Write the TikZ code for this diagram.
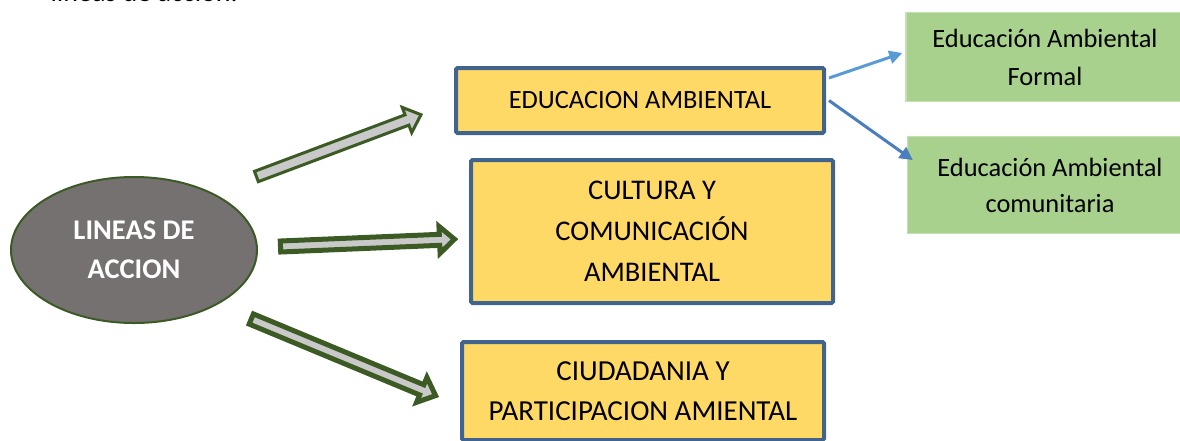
\documentclass[tikz,border=0pt]{standalone}
\usepackage{fontspec}
\setmainfont{Carlito}
\usepackage{xcolor}
\usetikzlibrary{arrows.meta}
\usetikzlibrary{calc}
\usetikzlibrary{shapes.geometric}

\definecolor{boxyellow}{HTML}{FFD966}
\definecolor{boxblue}{HTML}{41648F}
\definecolor{ovalgray}{HTML}{767171}
\definecolor{darkgreen}{HTML}{3B5A24}
\definecolor{arrowgray}{HTML}{C9C9C9}
\definecolor{boxgreen}{HTML}{A9D18E}
\definecolor{boxgreenline}{HTML}{C5E0B4}
\definecolor{lightblue}{HTML}{5B9BD5}
\definecolor{midblue}{HTML}{4A7EBF}

\begin{document}
\begin{tikzpicture}[x=1pt,y=-1pt,
    linebox/.style={draw=boxblue,line width=4pt,fill=boxyellow,rounded corners=1.5pt,align=center,inner sep=0pt},
    subbox/.style={draw=boxgreenline,line width=1.5pt,fill=boxgreen,align=center,inner sep=0pt},
    blockarrow/.style={draw=darkgreen,fill=arrowgray,line join=miter},
    thinarrow/.style={line width=3pt,-{Triangle[length=13pt,width=13pt]}}]
        \newcommand{\figlineasshaft}{5.5pt}
        \newcommand{\figlineashead}{13.5pt}
        \newcommand{\figlineasheadlen}{15pt}
        \newcommand{\figlineasarrow}[3]{%
            \coordinate (hb) at ($(#3)!\figlineasheadlen!(#2)$);
            \draw[blockarrow,#1] ($(#2)!\figlineasshaft!90:(#3)$) -- ($(hb)!\figlineasshaft!90:(#3)$)
                -- ($(hb)!\figlineashead!90:(#3)$) -- (#3) -- ($(hb)!\figlineashead!-90:(#3)$)
                -- ($(hb)!\figlineasshaft!-90:(#3)$) -- ($(#2)!\figlineasshaft!-90:(#3)$) -- cycle;}
        \useasboundingbox (0,0) rectangle (1180,440);
        \node[anchor=base west,font=\fontsize{28}{34}\selectfont] (intro) at (47,1.5) {líneas de acción.};
        \node[ellipse,draw=darkgreen,line width=2pt,fill=ovalgray,minimum width=246pt,minimum height=146pt,
              text=white,align=center,font=\bfseries\fontsize{28.5}{39}\selectfont] (lineas) at (134,250) {LINEAS DE\\ACCION};
        \node[linebox,minimum width=368pt,minimum height=65pt,font=\fontsize{26.4}{36}\selectfont] (edu) at (640,100.5) {EDUCACION AMBIENTAL};
        \node[linebox,minimum width=362pt,minimum height=143pt,font=\fontsize{28.5}{41}\selectfont] (cultura) at (652,231.5) {CULTURA Y\\COMUNICACIÓN\\AMBIENTAL};
        \node[linebox,minimum width=362pt,minimum height=98pt,font=\fontsize{29}{40}\selectfont] (ciudad) at (643,391) {CIUDADANIA Y\\PARTICIPACION AMIENTAL};
        \node[subbox,minimum width=278pt,minimum height=89pt,font=\fontsize{26.4}{38}\selectfont] (formal) at (1045,57) {Educación Ambiental\\Formal};
        \node[subbox,minimum width=285pt,minimum height=97pt,font=\fontsize{26.4}{36}\selectfont] (comunit) at (1050,185) {Educación Ambiental\\comunitaria};
        \coordinate (arrowatail) at (256.4,176.5);
        \coordinate (arrowatip) at (421,114.7);
        \coordinate (arrowbtail) at (280.5,246.5);
        \coordinate (arrowbtip) at (454.5,239.2);
        \coordinate (arrowctail) at (251.3,319);
        \coordinate (arrowctip) at (435.6,395.6);
        \figlineasarrow{line width=3pt}{arrowatail}{arrowatip}
        \figlineasarrow{line width=5pt}{arrowbtail}{arrowbtip}
        \figlineasarrow{line width=5pt}{arrowctail}{arrowctip}
        \draw[thinarrow,lightblue] ([shift={(3,-22.5)}]edu.east) -- ([shift={(-3,-4)}]formal.west);
        \draw[thinarrow,midblue] ([shift={(3,0)}]edu.east) -- ([shift={(6,-25)}]comunit.west);
\end{tikzpicture}
\end{document}
